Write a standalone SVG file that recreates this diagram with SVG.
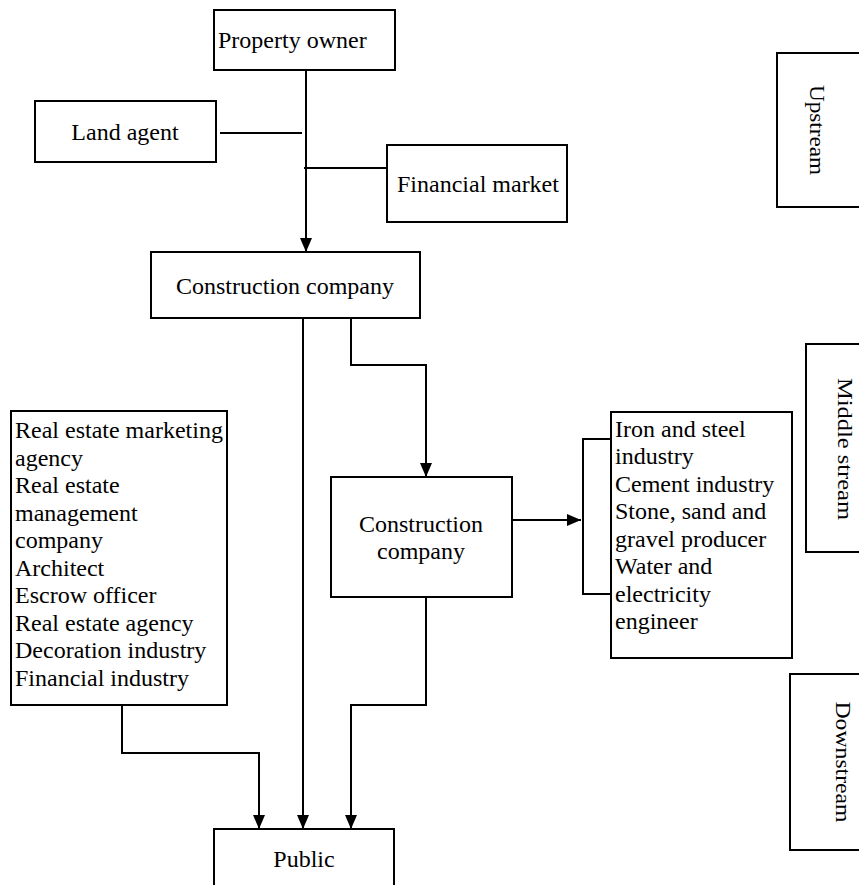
<svg xmlns="http://www.w3.org/2000/svg" width="859" height="885" viewBox="0 0 859 885">
<defs>
<style>
.box{fill:#fff;stroke:#000;stroke-width:2}
.t{font-family:"Liberation Serif","Times New Roman",serif;font-size:24px;fill:#000}
.c{text-anchor:middle}
.v{font-family:"Liberation Serif","Times New Roman",serif;font-size:20px;fill:#000;text-anchor:middle}
.ln{fill:none;stroke:#000;stroke-width:2}
</style>
<marker id="ah" markerUnits="userSpaceOnUse" markerWidth="16" markerHeight="12" refX="14" refY="6" orient="auto">
<path d="M0,0 L14,6 L0,12 Z" fill="#000"/>
</marker>
</defs>
<rect width="859" height="885" fill="#fff"/>
<g id="connectors">
<line class="ln" x1="306" y1="70" x2="306" y2="252" marker-end="url(#ah)"/>
<line class="ln" x1="220" y1="133" x2="302" y2="133"/>
<line class="ln" x1="304" y1="168" x2="387" y2="168"/>
<line class="ln" x1="303" y1="318" x2="303" y2="829" marker-end="url(#ah)"/>
<polyline class="ln" points="351,318 351,365 426,365 426,477" marker-end="url(#ah)"/>
<line class="ln" x1="512" y1="520" x2="581" y2="520" marker-end="url(#ah)"/>
<polyline class="ln" points="611,439 583,439 583,594 611,594"/>
<polyline class="ln" points="122,705 122,753 259,753 259,829" marker-end="url(#ah)"/>
<polyline class="ln" points="426,597 426,705 351,705 351,829" marker-end="url(#ah)"/>
</g>
<g id="property-owner">
<rect class="box" x="214" y="10" width="181" height="60"/>
<text class="t" x="218" y="48">Property owner</text>
</g>
<g id="land-agent">
<rect class="box" x="35" y="101" width="181" height="61"/>
<text class="t c" x="125" y="140">Land agent</text>
</g>
<g id="financial-market">
<rect class="box" x="387" y="145" width="180" height="77"/>
<text class="t" x="397" y="192">Financial market</text>
</g>
<g id="construction-company-1">
<rect class="box" x="151" y="252" width="269" height="66"/>
<text class="t c" x="285" y="294">Construction company</text>
</g>
<g id="service-list">
<rect class="box" x="11" y="411" width="216" height="294"/>
<text class="t" x="15" y="438">Real estate marketing</text>
<text class="t" x="15" y="466">agency</text>
<text class="t" x="15" y="493">Real estate</text>
<text class="t" x="15" y="521">management</text>
<text class="t" x="15" y="548">company</text>
<text class="t" x="15" y="576">Architect</text>
<text class="t" x="15" y="603">Escrow officer</text>
<text class="t" x="15" y="631">Real estate agency</text>
<text class="t" x="15" y="658">Decoration industry</text>
<text class="t" x="15" y="686">Financial industry</text>
</g>
<g id="construction-company-2">
<rect class="box" x="331" y="477" width="181" height="120"/>
<text class="t c" x="421" y="532">Construction</text>
<text class="t c" x="421" y="559">company</text>
</g>
<g id="supplier-list">
<rect class="box" x="611" y="412" width="181" height="246"/>
<text class="t" x="615" y="437">Iron and steel</text>
<text class="t" x="615" y="464">industry</text>
<text class="t" x="615" y="492">Cement industry</text>
<text class="t" x="615" y="519">Stone, sand and</text>
<text class="t" x="615" y="547">gravel producer</text>
<text class="t" x="615" y="574">Water and</text>
<text class="t" x="615" y="602">electricity</text>
<text class="t" x="615" y="629">engineer</text>
</g>
<g id="public">
<rect class="box" x="214" y="829" width="180" height="70"/>
<text class="t c" x="304" y="867">Public</text>
</g>
<g id="upstream">
<rect class="box" x="777" y="53" width="100" height="154"/>
<text class="v" transform="translate(810,130) rotate(90)" textLength="90" lengthAdjust="spacingAndGlyphs">Upstream</text>
</g>
<g id="middle-stream">
<rect class="box" x="806" y="344" width="80" height="208"/>
<text class="v" transform="translate(838,449) rotate(90)" textLength="142" lengthAdjust="spacingAndGlyphs">Middle stream</text>
</g>
<g id="downstream">
<rect class="box" x="790" y="674" width="90" height="176"/>
<text class="v" transform="translate(836,762) rotate(90)" textLength="121" lengthAdjust="spacingAndGlyphs">Downstream</text>
</g>
</svg>
